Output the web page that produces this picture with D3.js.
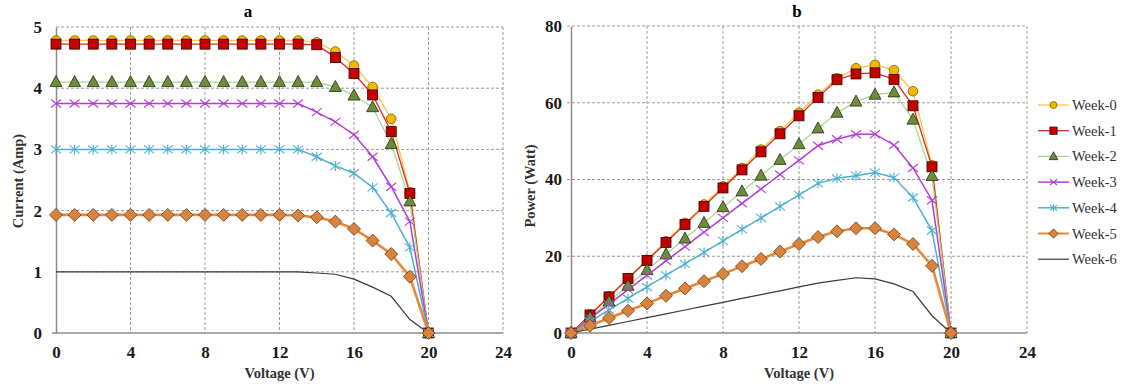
<!DOCTYPE html>
<html>
<head>
<meta charset="utf-8">
<script src="https://cdn.jsdelivr.net/npm/d3@7"></script>
<style>
  body { margin: 0; background: #fff; }
  svg text { font-family: 'Liberation Serif', 'Times New Roman', serif; }
</style>
</head>
<body>
<div id="chart"></div>
<script>
const voltage = [0, 1, 2, 3, 4, 5, 6, 7, 8, 9, 10, 11, 12, 13, 14, 15, 16, 17, 18, 19, 20]
const weeks = ['Week-0', 'Week-1', 'Week-2', 'Week-3', 'Week-4', 'Week-5', 'Week-6']
const xTicks = [0, 4, 8, 12, 16, 20, 24]
const currentTicks = [0, 1, 2, 3, 4, 5]
const powerTicks = [0, 20, 40, 60, 80]

// current (Amp)
const currentW0 = [4.78, 4.78, 4.78, 4.78, 4.78, 4.78, 4.78, 4.78, 4.78, 4.78, 4.78, 4.78, 4.78, 4.78, 4.75, 4.60, 4.37, 4.02, 3.50, 2.30, 0]
const currentW1 = [4.72, 4.72, 4.72, 4.72, 4.72, 4.72, 4.72, 4.72, 4.72, 4.72, 4.72, 4.72, 4.72, 4.72, 4.71, 4.50, 4.24, 3.89, 3.29, 2.28, 0]
const currentW2 = [4.10, 4.10, 4.10, 4.10, 4.10, 4.10, 4.10, 4.10, 4.10, 4.10, 4.10, 4.10, 4.10, 4.10, 4.10, 4.02, 3.88, 3.69, 3.09, 2.15, 0]
const currentW3 = [3.75, 3.75, 3.75, 3.75, 3.75, 3.75, 3.75, 3.75, 3.75, 3.75, 3.75, 3.75, 3.75, 3.75, 3.61, 3.45, 3.24, 2.88, 2.39, 1.82, 0]
const currentW4 = [3.00, 3.00, 3.00, 3.00, 3.00, 3.00, 3.00, 3.00, 3.00, 3.00, 3.00, 3.00, 3.00, 3.00, 2.88, 2.73, 2.61, 2.38, 1.96, 1.40, 0]
const currentW5 = [1.93, 1.93, 1.93, 1.93, 1.93, 1.93, 1.93, 1.93, 1.93, 1.93, 1.93, 1.93, 1.93, 1.92, 1.89, 1.82, 1.70, 1.51, 1.29, 0.92, 0]
const currentW6 = [1.00, 1.00, 1.00, 1.00, 1.00, 1.00, 1.00, 1.00, 1.00, 1.00, 1.00, 1.00, 1.00, 1.00, 0.98, 0.96, 0.88, 0.75, 0.60, 0.22, 0]

// power (Watt)
const powerW0 = [0, 4.8, 9.6, 14.3, 19.1, 23.9, 28.7, 33.5, 38.2, 43.0, 47.8, 52.6, 57.4, 62.1, 66.4, 69.0, 69.9, 68.5, 63.0, 43.7, 0]
const powerW1 = [0, 4.7, 9.4, 14.2, 18.9, 23.6, 28.3, 33.0, 37.8, 42.5, 47.2, 51.9, 56.6, 61.4, 66.0, 67.5, 67.8, 66.1, 59.2, 43.3, 0]
const powerW2 = [0, 4.1, 8.2, 12.3, 16.4, 20.5, 24.6, 28.7, 32.8, 36.9, 41.0, 45.1, 49.2, 53.3, 57.4, 60.3, 62.1, 62.7, 55.6, 40.9, 0]
const powerW3 = [0, 3.8, 7.5, 11.3, 15.0, 18.8, 22.5, 26.3, 30.0, 33.8, 37.5, 41.3, 45.0, 48.8, 50.5, 51.8, 51.8, 49.0, 43.0, 34.6, 0]
const powerW4 = [0, 3.0, 6.0, 9.0, 12.0, 15.0, 18.0, 21.0, 24.0, 27.0, 30.0, 33.0, 36.0, 39.0, 40.3, 41.0, 41.8, 40.5, 35.3, 26.7, 0]
const powerW5 = [0, 1.9, 3.9, 5.8, 7.7, 9.7, 11.6, 13.5, 15.4, 17.4, 19.3, 21.2, 23.2, 25.0, 26.5, 27.3, 27.3, 25.7, 23.2, 17.5, 0]
const powerW6 = [0, 1.0, 2.0, 3.0, 4.0, 5.0, 6.0, 7.0, 8.0, 9.0, 10.0, 11.0, 12.0, 13.0, 13.7, 14.4, 14.1, 12.8, 10.8, 4.5, 0]

const currentSeries = [currentW0, currentW1, currentW2, currentW3, currentW4, currentW5, currentW6]
const powerSeries = [powerW0, powerW1, powerW2, powerW3, powerW4, powerW5, powerW6]

const styles = [
	{ line: '#f7c64a', width: 1.3, marker: 'circle', fill: '#f5b800', stroke: '#7a5a00' },
	{ line: '#e02a1c', width: 1.3, marker: 'square', fill: '#c40000', stroke: '#3a0000' },
	{ line: '#a8d890', width: 1.3, marker: 'triangle', fill: '#6e8c3c', stroke: '#203010' },
	{ line: '#b13fd6', width: 1.5, marker: 'x', fill: 'none', stroke: '#b13fd6' },
	{ line: '#4fb0cc', width: 1.5, marker: 'star', fill: 'none', stroke: '#4fb0cc' },
	{ line: '#e8883c', width: 2.6, marker: 'diamond', fill: '#d9843e', stroke: '#6b3e14' },
	{ line: '#3a3a3a', width: 1.2, marker: null }
]

const svg = d3.select('#chart').append('svg').attr('width', 1124).attr('height', 389)
	.attr('font-family', 'Liberation Serif')

// s = marker scale (1 on the plot, smaller in the legend)
function drawMarker(g, type, x, y, st, s) {
	if (type === 'circle') {
		g.append('circle').attr('cx', x).attr('cy', y).attr('r', 4.8 * s)
			.attr('fill', st.fill).attr('stroke', st.stroke).attr('stroke-width', 0.8)
	} else if (type === 'square') {
		g.append('rect').attr('x', x - 5 * s).attr('y', y - 5 * s).attr('width', 10 * s).attr('height', 10 * s)
			.attr('fill', st.fill).attr('stroke', st.stroke).attr('stroke-width', 0.8)
	} else if (type === 'triangle') {
		g.append('path').attr('d', `M${x},${y - 6.5 * s}L${x + 6 * s},${y + 4.5 * s}L${x - 6 * s},${y + 4.5 * s}Z`)
			.attr('fill', st.fill).attr('stroke', st.stroke).attr('stroke-width', 0.8)
	} else if (type === 'diamond') {
		g.append('path').attr('d', `M${x},${y - 6.5 * s}L${x + 6.5 * s},${y}L${x},${y + 6.5 * s}L${x - 6.5 * s},${y}Z`)
			.attr('fill', st.fill).attr('stroke', st.stroke).attr('stroke-width', 0.8)
	} else if (type === 'x') {
		g.append('path').attr('d', `M${x - 5 * s},${y - 4 * s}L${x + 5 * s},${y + 4 * s}M${x - 5 * s},${y + 4 * s}L${x + 5 * s},${y - 4 * s}`)
			.attr('fill', 'none').attr('stroke', st.stroke).attr('stroke-width', 1.1)
	} else if (type === 'star') {
		g.append('path').attr('d', `M${x - 5 * s},${y - 4 * s}L${x + 5 * s},${y + 4 * s}M${x - 5 * s},${y + 4 * s}L${x + 5 * s},${y - 4 * s}M${x},${y - 5 * s}L${x},${y + 5 * s}`)
			.attr('fill', 'none').attr('stroke', st.stroke).attr('stroke-width', 1.1)
	}
}

function panel(opts) {
	const x = d3.scaleLinear().domain([0, 24]).range([opts.left, opts.right])
	const y = d3.scaleLinear().domain([0, opts.yMax]).range([opts.bottom, opts.top])
	const g = svg.append('g')

	// dashed grid
	g.append('g').selectAll('line').data(opts.yTicks.slice(1)).enter().append('line')
		.attr('x1', opts.left - opts.gridOut).attr('x2', opts.right)
		.attr('y1', (d) => y(d)).attr('y2', (d) => y(d))
		.attr('stroke', '#9a9a9a').attr('stroke-dasharray', '3,2').attr('stroke-width', 1)
	g.append('g').selectAll('line').data(xTicks.slice(1)).enter().append('line')
		.attr('x1', (d) => x(d)).attr('x2', (d) => x(d))
		.attr('y1', opts.top).attr('y2', opts.bottom)
		.attr('stroke', '#9a9a9a').attr('stroke-dasharray', '3,2').attr('stroke-width', 1)

	// axes
	const xAxis = d3.axisBottom(x).tickValues(xTicks).tickFormat(d3.format('d')).tickSize(0).tickPadding(13)
	const yAxis = d3.axisLeft(y).tickValues(opts.yTicks).tickFormat(d3.format('d')).tickSize(0).tickPadding(opts.yPad)
	const xa = g.append('g').attr('transform', `translate(0,${opts.bottom})`).call(xAxis)
	const ya = g.append('g').attr('transform', `translate(${opts.left},0)`).call(yAxis)
	xa.select('.domain').attr('d', `M${opts.left - 4},0H${opts.right}`).attr('stroke', '#8c8c8c').attr('stroke-width', 1.5)
	ya.select('.domain').attr('stroke', '#8c8c8c').attr('stroke-width', 1.5)
	g.selectAll('.tick text').attr('font-family', 'Liberation Serif').attr('font-weight', 'bold')
		.attr('font-size', 17).attr('fill', '#1a1a1a')

	// titles
	g.append('text').attr('x', opts.titleX).attr('y', 17).attr('text-anchor', 'middle')
		.attr('font-weight', 'bold').attr('font-size', 17).text(opts.title)
	g.append('text').attr('x', x(12)).attr('y', 378).attr('text-anchor', 'middle')
		.attr('font-weight', 'bold').attr('font-size', 14.5).attr('fill', '#333').text('Voltage (V)')
	g.append('text').attr('transform', `translate(${opts.yTitleX},${opts.yTitleY}) rotate(-90)`)
		.attr('text-anchor', 'middle').attr('font-weight', 'bold').attr('font-size', 14.5).attr('fill', '#333')
		.text(opts.yLabel)

	const line = d3.line().x((d, i) => x(voltage[i])).y((d) => y(d))
	opts.series.forEach((vals, k) => {
		const st = styles[k]
		g.append('path').attr('d', line(vals)).attr('fill', 'none')
			.attr('stroke', st.line).attr('stroke-width', st.width)
	})
	opts.series.forEach((vals, k) => {
		const st = styles[k]
		if (!st.marker) return
		const mg = g.append('g')
		vals.forEach((v, i) => drawMarker(mg, st.marker, x(voltage[i]), y(v), st, 1))
	})
}

panel({
	left: 56, right: 503, top: 27, bottom: 333, yMax: 5, yTicks: currentTicks, yPad: 14, gridOut: 0,
	series: currentSeries, title: 'a', titleX: 248, yLabel: 'Current (Amp)', yTitleX: 23, yTitleY: 181
})
panel({
	left: 571, right: 1027, top: 26, bottom: 333, yMax: 80, yTicks: powerTicks, yPad: 9, gridOut: 4,
	series: powerSeries, title: 'b', titleX: 797, yLabel: 'Power (Watt)', yTitleX: 535, yTitleY: 186
})

// legend
const legend = svg.append('g')
weeks.forEach((w, k) => {
	const st = styles[k]
	const ly = 105 + k * 25.7
	legend.append('line').attr('x1', 1038).attr('x2', 1069).attr('y1', ly).attr('y2', ly)
		.attr('stroke', st.line).attr('stroke-width', Math.min(st.width, 2))
	if (st.marker) drawMarker(legend, st.marker, 1053.5, ly, st, 0.72)
	legend.append('text').attr('x', 1072).attr('y', ly + 5).attr('font-size', 14.5)
		.attr('font-family', 'Liberation Serif').attr('fill', '#333').text(w)
})
</script>
</body>
</html>
